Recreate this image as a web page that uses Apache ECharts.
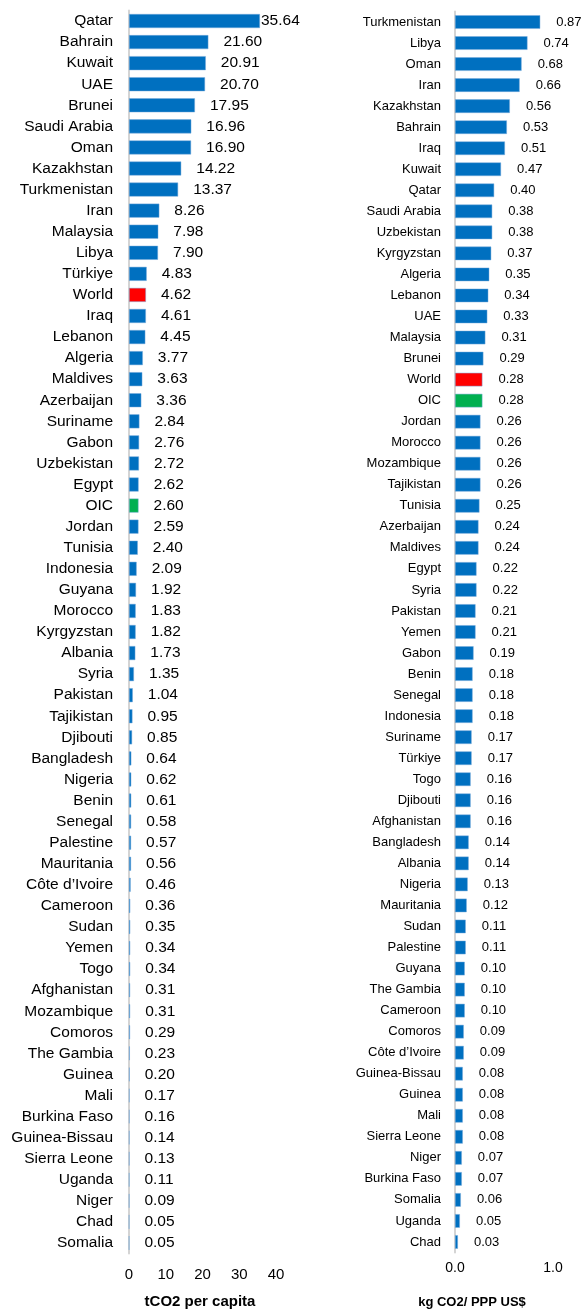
<!DOCTYPE html>
<html>
<head>
<meta charset="utf-8">
<script src="https://cdn.jsdelivr.net/npm/echarts@6/dist/echarts.min.js"></script>
<style>
  html, body { margin: 0; padding: 0; background: #fff; }
  #chart { width: 582px; height: 1309px; }
</style>
</head>
<body>
<div id="chart"></div>
<script>
// left panel: tCO2 per capita
const perCapitaNames = ['Qatar', 'Bahrain', 'Kuwait', 'UAE', 'Brunei', 'Saudi Arabia', 'Oman', 'Kazakhstan',
  'Turkmenistan', 'Iran', 'Malaysia', 'Libya', 'Türkiye', 'World', 'Iraq', 'Lebanon', 'Algeria', 'Maldives',
  'Azerbaijan', 'Suriname', 'Gabon', 'Uzbekistan', 'Egypt', 'OIC', 'Jordan', 'Tunisia', 'Indonesia', 'Guyana',
  'Morocco', 'Kyrgyzstan', 'Albania', 'Syria', 'Pakistan', 'Tajikistan', 'Djibouti', 'Bangladesh', 'Nigeria',
  'Benin', 'Senegal', 'Palestine', 'Mauritania', 'Côte d\u2019Ivoire', 'Cameroon', 'Sudan', 'Yemen', 'Togo',
  'Afghanistan', 'Mozambique', 'Comoros', 'The Gambia', 'Guinea', 'Mali', 'Burkina Faso', 'Guinea-Bissau',
  'Sierra Leone', 'Uganda', 'Niger', 'Chad', 'Somalia'];
const perCapitaValues = [35.64, 21.60, 20.91, 20.70, 17.95, 16.96, 16.90, 14.22, 13.37, 8.26, 7.98, 7.90, 4.83,
  4.62, 4.61, 4.45, 3.77, 3.63, 3.36, 2.84, 2.76, 2.72, 2.62, 2.60, 2.59, 2.40, 2.09, 1.92, 1.83, 1.82, 1.73,
  1.35, 1.04, 0.95, 0.85, 0.64, 0.62, 0.61, 0.58, 0.57, 0.56, 0.46, 0.36, 0.35, 0.34, 0.34, 0.31, 0.31, 0.29,
  0.23, 0.20, 0.17, 0.16, 0.14, 0.13, 0.11, 0.09, 0.05, 0.05];

// right panel: kg CO2 / PPP US$
const intensityNames = ['Turkmenistan', 'Libya', 'Oman', 'Iran', 'Kazakhstan', 'Bahrain', 'Iraq', 'Kuwait',
  'Qatar', 'Saudi Arabia', 'Uzbekistan', 'Kyrgyzstan', 'Algeria', 'Lebanon', 'UAE', 'Malaysia', 'Brunei',
  'World', 'OIC', 'Jordan', 'Morocco', 'Mozambique', 'Tajikistan', 'Tunisia', 'Azerbaijan', 'Maldives', 'Egypt',
  'Syria', 'Pakistan', 'Yemen', 'Gabon', 'Benin', 'Senegal', 'Indonesia', 'Suriname', 'Türkiye', 'Togo',
  'Djibouti', 'Afghanistan', 'Bangladesh', 'Albania', 'Nigeria', 'Mauritania', 'Sudan', 'Palestine', 'Guyana',
  'The Gambia', 'Cameroon', 'Comoros', 'Côte d\u2019Ivoire', 'Guinea-Bissau', 'Guinea', 'Mali', 'Sierra Leone',
  'Niger', 'Burkina Faso', 'Somalia', 'Uganda', 'Chad'];
const intensityValues = [0.87, 0.74, 0.68, 0.66, 0.56, 0.53, 0.51, 0.47, 0.40, 0.38, 0.38, 0.37, 0.35, 0.34,
  0.33, 0.31, 0.29, 0.28, 0.28, 0.26, 0.26, 0.26, 0.26, 0.25, 0.24, 0.24, 0.22, 0.22, 0.21, 0.21, 0.19, 0.18,
  0.18, 0.18, 0.17, 0.17, 0.16, 0.16, 0.16, 0.14, 0.14, 0.13, 0.12, 0.11, 0.11, 0.10, 0.10, 0.10, 0.09, 0.09,
  0.08, 0.08, 0.08, 0.08, 0.07, 0.07, 0.06, 0.05, 0.03];

const leftTicks = [0, 10, 20, 30, 40];
const rightTicks = [0, 1];

const BLUE = '#0070C0';
const highlight = { 'World': '#FF0000', 'OIC': '#00B050' };
const font = 'Liberation Sans, Arial, sans-serif';

function toData(names, values, labelDist) {
  return values.map(function (v, i) {
    let item = { value: v, itemStyle: { color: highlight[names[i]] || BLUE } };
    if (labelDist != null && i === 0) item.label = { distance: labelDist };
    return item;
  });
}

let myChart = echarts.init(document.getElementById('chart'));
let option = {
  animation: false,
  title: [
    {
      text: 'tCO2 per capita', left: 200, top: 1294, textAlign: 'center', padding: 0,
      textStyle: { fontFamily: font, fontSize: 15, fontWeight: 'bold', color: '#000' }
    },
    {
      text: 'kg CO2/ PPP US$', left: 472, top: 1296, textAlign: 'center', padding: 0,
      textStyle: { fontFamily: font, fontSize: 13, fontWeight: 'bold', color: '#000' }
    }
  ],
  grid: [
    { left: 129, top: 10.5, width: 147, height: 1243 },
    { left: 455, top: 11.5, width: 98, height: 1241 }
  ],
  xAxis: [
    {
      gridIndex: 0, type: 'value', min: leftTicks[0], max: leftTicks[leftTicks.length - 1], interval: 10,
      axisLine: { show: false }, axisTick: { show: false }, splitLine: { show: false },
      axisLabel: { margin: 14, fontFamily: font, fontSize: 15, color: '#000' }
    },
    {
      gridIndex: 1, type: 'value', min: rightTicks[0], max: rightTicks[1], interval: 1,
      axisLine: { show: false }, axisTick: { show: false }, splitLine: { show: false },
      axisLabel: {
        margin: 9, fontFamily: font, fontSize: 14, color: '#000',
        formatter: function (v) { return v.toFixed(1); }
      }
    }
  ],
  yAxis: [
    {
      gridIndex: 0, type: 'category', inverse: true, data: perCapitaNames,
      axisLine: { lineStyle: { color: '#d4d4d4', width: 2 } }, axisTick: { show: false },
      axisLabel: { margin: 16, fontFamily: font, fontSize: 15.5, color: '#000', interval: 0 }
    },
    {
      gridIndex: 1, type: 'category', inverse: true, data: intensityNames,
      axisLine: { lineStyle: { color: '#d4d4d4', width: 2 } }, axisTick: { show: false },
      axisLabel: { margin: 14, fontFamily: font, fontSize: 13, color: '#000', interval: 0 }
    }
  ],
  series: [
    {
      name: 'tCO2 per capita', type: 'bar', xAxisIndex: 0, yAxisIndex: 0,
      barCategoryGap: '33%',
      itemStyle: { borderColor: 'rgba(120,170,220,0.8)', borderWidth: 0.6 },
      label: {
        show: true, position: 'right', distance: 15, fontFamily: font, fontSize: 15.5, color: '#000',
        formatter: function (p) { return p.value.toFixed(2); }
      },
      data: toData(perCapitaNames, perCapitaValues, 1)
    },
    {
      name: 'kg CO2/ PPP US$', type: 'bar', xAxisIndex: 1, yAxisIndex: 1,
      barCategoryGap: '35%',
      itemStyle: { borderColor: 'rgba(120,170,220,0.8)', borderWidth: 0.6 },
      label: {
        show: true, position: 'right', distance: 16, fontFamily: font, fontSize: 13, color: '#000',
        formatter: function (p) { return p.value.toFixed(2); }
      },
      data: toData(intensityNames, intensityValues, null)
    }
  ]
};
myChart.setOption(option);
</script>
</body>
</html>
